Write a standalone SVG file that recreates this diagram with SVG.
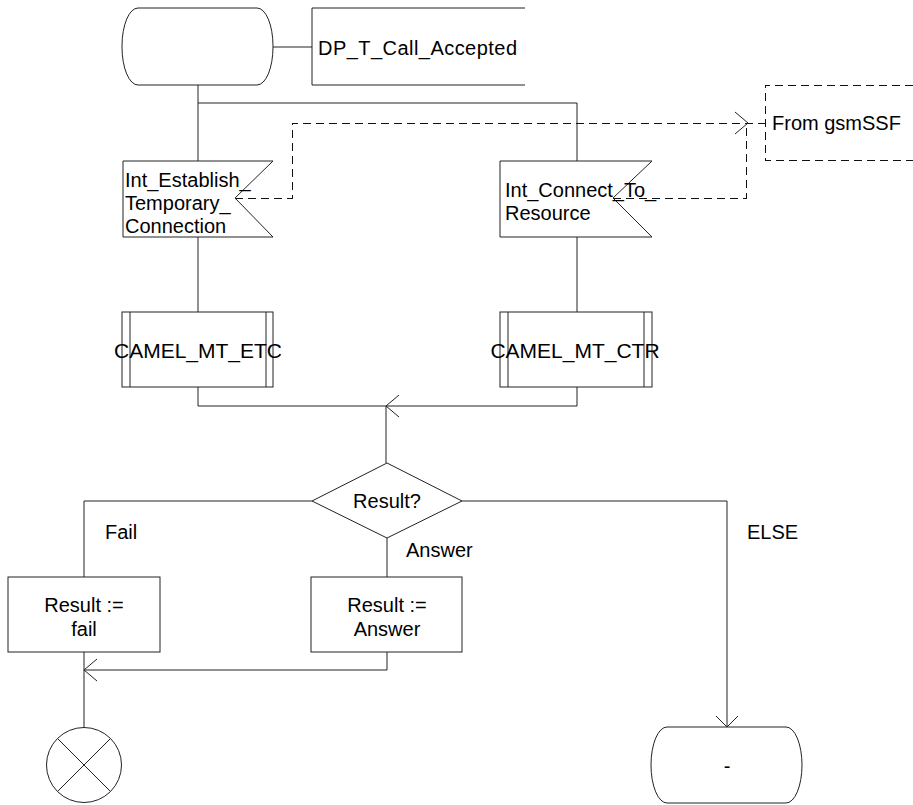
<svg xmlns="http://www.w3.org/2000/svg" width="913" height="805" viewBox="0 0 913 805">
<style>
.s{fill:#fff;stroke:#222;stroke-width:1}
.l{fill:none;stroke:#222;stroke-width:1}
.d{fill:none;stroke:#111;stroke-width:1;stroke-dasharray:8,5;shape-rendering:crispEdges}
text{font-family:"Liberation Sans",Arial,sans-serif;font-size:20px;fill:#000}
.c{text-anchor:middle}
</style>
<rect width="913" height="805" fill="#fff"/>
<g id="connectors">
<path class="l" d="M273,47 H312"/>
<path class="l" d="M198,85 V161 M198,103 H577 V161"/>
<path class="l" d="M198,237 V312 M577,237 V312"/>
<path class="l" d="M198,387 V406 H577 V387 M386,406 V463"/>
<path class="l" d="M399,395 L386,406 L399,417"/>
<path class="l" d="M312,501 H84 V577"/>
<path class="l" d="M387,538 V577"/>
<path class="l" d="M387,652 V670 H84 M84,652 V727"/>
<path class="l" d="M97,659 L84,670 L97,681"/>
<path class="l" d="M462,501 H727 V727"/>
<path class="l" d="M716,716 L727,727 L738,716"/>
<path class="d" d="M235,198 H292 V123 H765"/>
<path class="d" d="M613,198 H746 V123"/>
<path class="l" d="M735,112 L748,123 L735,134"/>
</g>
<g id="start">
<rect class="s" x="122" y="8" width="151" height="77" rx="16" ry="38"/>
</g>
<g id="comment_dp">
<path class="l" d="M525,8 H312 V85 H525"/>
<text x="318" y="55" textLength="199">DP_T_Call_Accepted</text>
</g>
<g id="from_gsmssf">
<path class="d" d="M913,85 H765 V160 H913"/>
<text x="772" y="130">From gsmSSF</text>
</g>
<g id="input_etc">
<path class="s" d="M123,161 H273 L235,198 L273,237 H123 Z"/>
<text x="125" y="187">Int_Establish_</text>
<text x="125" y="210">Temporary_</text>
<text x="125" y="233">Connection</text>
</g>
<g id="input_ctr">
<path class="s" d="M500,161 H652 L613,198 L652,237 H500 Z"/>
<text x="505" y="197">Int_Connect_To_</text>
<text x="505" y="220">Resource</text>
</g>
<g id="proc_etc">
<rect class="s" x="122" y="312" width="151" height="75"/>
<path class="l" d="M130,312 V387 M266,312 V387"/>
<text class="c" x="198" y="358" style="font-size:21px">CAMEL_MT_ETC</text>
</g>
<g id="proc_ctr">
<rect class="s" x="500" y="312" width="152" height="75"/>
<path class="l" d="M508,312 V387 M644,312 V387"/>
<text class="c" x="575" y="358" style="font-size:21px">CAMEL_MT_CTR</text>
</g>
<g id="decision">
<path class="s" d="M387,463 L462,501 L387,538 L312,501 Z"/>
<text class="c" x="387" y="508">Result?</text>
</g>
<g id="labels">
<text x="105" y="539">Fail</text>
<text x="406" y="557">Answer</text>
<text x="747" y="539">ELSE</text>
</g>
<g id="task_fail">
<rect class="s" x="8" y="577" width="152" height="75"/>
<text class="c" x="84" y="612">Result :=</text>
<text class="c" x="84" y="636">fail</text>
</g>
<g id="task_answer">
<rect class="s" x="311" y="577" width="151" height="75"/>
<text class="c" x="387" y="612">Result :=</text>
<text class="c" x="387" y="636">Answer</text>
</g>
<g id="stop">
<circle class="s" cx="84" cy="765" r="37.5"/>
<path class="l" d="M57.5,738.5 L110.5,791.5 M110.5,738.5 L57.5,791.5"/>
</g>
<g id="end_state">
<rect class="s" x="651" y="727" width="151" height="76" rx="16" ry="38"/>
<text class="c" x="727" y="773">-</text>
</g>
</svg>
